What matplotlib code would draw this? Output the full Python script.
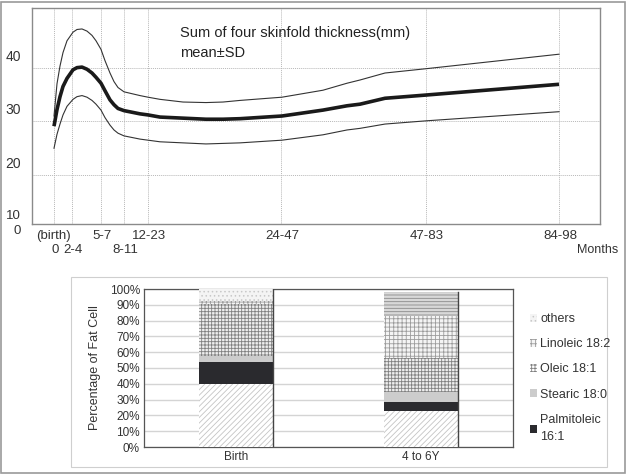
import matplotlib.pyplot as plt
from matplotlib.patches import Rectangle, Patch

plt.rcParams['font.family'] = ['Liberation Sans', 'DejaVu Sans']

# ---- top chart: sum of four skinfold thickness (mm), mean +- SD
age_labels = ['0', '2-4', '5-7', '8-11', '12-23', '24-47', '47-83', '84-98']
age_pos = [54, 72, 101, 124, 148, 281, 426, 559]   # horizontal position of each age group
age_row = [1, 1, 0, 1, 0, 0, 0, 0]                  # 0 = upper label row, 1 = lower row

# curve read-off points (x on the same axis as age_pos)
curve_x = [54, 57, 60, 63, 67, 73, 77, 82, 87, 92, 96, 101, 105, 110, 114, 118, 124,
           140, 148, 160, 183, 206, 223, 240, 282, 323, 347, 360, 385, 426, 559]
mean_mm = [29.1, 32.2, 34.6, 36.5, 38.0, 39.6, 40.0, 40.1, 39.7, 39.0, 38.2, 37.1, 35.7,
           34.0, 33.1, 32.4, 32.0, 31.4, 31.2, 30.8, 30.6, 30.4, 30.4, 30.5, 31.0, 32.1,
           32.9, 33.2, 34.3, 34.9, 36.9]
upper_mm = [31.0, 37.0, 40.3, 42.8, 45.0, 46.6, 47.1, 47.2, 46.8, 46.0, 45.0, 43.4, 41.3,
            39.0, 37.4, 36.3, 35.5, 34.8, 34.5, 34.1, 33.6, 33.5, 33.6, 33.9, 34.5, 35.8,
            37.1, 37.7, 39.0, 39.8, 42.5]
lower_mm = [25.0, 27.6, 29.5, 31.2, 32.8, 34.1, 34.6, 34.8, 34.5, 33.9, 33.2, 32.1, 30.7,
            29.3, 28.4, 27.8, 27.3, 26.7, 26.5, 26.2, 26.0, 25.8, 25.9, 26.0, 26.5, 27.5,
            28.4, 28.7, 29.5, 30.1, 31.8]
y_grid = [20, 30, 40]

# ---- bottom chart: fatty acid composition of fat cells (%)
groups = ['Birth', '4 to 6Y']
acids = ['Palmitic 16:0', 'Palmitoleic\n16:1', 'Stearic 18:0', 'Oleic 18:1',
         'Linoleic 18:2', 'others']
shares = {
    'Palmitic 16:0':    [39.7, 22.8],
    'Palmitoleic\n16:1': [14.0, 5.5],
    'Stearic 18:0':     [4.0, 6.7],
    'Oleic 18:1':       [32.8, 21.1],
    'Linoleic 18:2':    [2.1, 26.8],
    'others':           [7.4, 15.4],
}

W, H = 628, 476
fig = plt.figure(figsize=(W / 100, H / 100), dpi=100)


def box(l, t, r, b):
    return [l / W, 1 - b / H, (r - l) / W, (b - t) / H]


# outer frame and bottom panel frame
fig.patches.append(Rectangle((1 / W, 1 - 473 / H), 624 / W, 471 / H, transform=fig.transFigure,
                             fill=False, edgecolor='#9a9a9a', linewidth=1.2))
fig.patches.append(Rectangle((71 / W, 1 - 467 / H), 536 / W, 190 / H, transform=fig.transFigure,
                             fill=False, edgecolor='#cfcfcf', linewidth=0.8))

# ---------------- top chart
ax = fig.add_axes(box(32, 8, 600, 224))
ax.plot(curve_x, upper_mm, color='#333333', lw=0.8)
ax.plot(curve_x, lower_mm, color='#333333', lw=0.8)
ax.plot(curve_x, mean_mm, color='#1a1a1a', lw=2.6, solid_capstyle='butt',
        solid_joinstyle='round')
ax.set_xlim(32, 600)
ax.set_ylim(10.9, 51.1)
ax.set_xticks(age_pos)
ax.set_yticks(y_grid)
ax.set_xticklabels([])
ax.set_yticklabels([])
ax.tick_params(length=0)
ax.grid(True, color='#b8b8b8', linestyle=(0, (1, 1)), linewidth=0.7)
for s in ax.spines.values():
    s.set_color('#8a8a8a')
    s.set_linewidth(1.0)

lab_kw = dict(fontsize=9.5, color='#333333', ha='center', va='center')
for lab, xp, row in zip(age_labels, age_pos, age_row):
    ax.text(xp + 1, -0.055 - 0.065 * row, lab, transform=ax.get_xaxis_transform(), **lab_kw)
ax.text(53, -0.055, '(birth)', transform=ax.get_xaxis_transform(), **lab_kw)
ax.text(618, -0.12, 'Months', transform=ax.get_xaxis_transform(), fontsize=9, color='#333333',
        ha='right', va='center')
for v in y_grid:
    fig.text(13 / W, 1 - (67.7 + (40 - v) * 5.37 - 11) / H, str(v), ha='center', va='center',
             fontsize=10, color='#333333')
fig.text(13 / W, 1 - 216 / H, '10', ha='center', va='center', fontsize=9.5, color='#333333')
fig.text(17 / W, 1 - 231 / H, '0', ha='center', va='center', fontsize=9.5, color='#333333')

ax.text(180, 46.5, 'Sum of four skinfold thickness(mm)', fontsize=10.5, color='#222222',
        ha='left', va='center')
ax.text(180, 42.8, 'mean\u00b1SD', fontsize=10.5, color='#222222', ha='left', va='center')

# ---------------- bottom chart
bx = fig.add_axes(box(144, 289, 513, 447))
styles = {
    'Palmitic 16:0':    dict(color='white', edgecolor='#c4c4c4', hatch='//////'),
    'Palmitoleic\n16:1': dict(color='#2a2a2e', edgecolor='#2a2a2e', hatch=None),
    'Stearic 18:0':     dict(color='#cccccc', edgecolor='#cccccc', hatch=None),
    'Oleic 18:1':       dict(color='#eeeeee', edgecolor='#808080', hatch='+++++'),
    'Linoleic 18:2':    dict(color='#f4f4f4', edgecolor='#9c9c9c', hatch='++++'),
    'others':           dict(color='#f4f4f4', edgecolor='#c8c8c8', hatch='....'),
}
plt.rcParams['hatch.linewidth'] = 0.6
xs = list(range(len(groups)))
bottom = [0.0] * len(groups)
handles = {}
for acid in acids:
    vals = shares[acid]
    st = styles[acid]
    bars = bx.bar(xs, vals, 0.4, bottom=bottom, color=st['color'], edgecolor=st['edgecolor'],
                  hatch=st['hatch'], linewidth=0, zorder=3)
    handles[acid] = bars
    bottom = [b + v for b, v in zip(bottom, vals)]
# the later group uses horizontal stripes for "others"
handles['others'][1].set_hatch('-----')
handles['others'][1].set_edgecolor('#8a8a8a')
handles['others'][1].set_facecolor('#d8d8d8')
for xi, top in zip(xs, bottom):
    bx.plot([xi + 0.2, xi + 0.2], [0, top], color='#444444', lw=1.0, zorder=4)

bx.set_xlim(-0.5, 1.5)
bx.set_ylim(0, 100)
bx.set_yticks(range(0, 101, 10))
bx.set_yticklabels([f'{v}%' for v in range(0, 101, 10)], fontsize=8.5, color='#333333')
bx.set_xticks(xs)
bx.set_xticklabels(groups, fontsize=8.5, color='#333333')
bx.tick_params(length=0, pad=3)
bx.yaxis.grid(True, color='#d4d4d4', linewidth=1.0, zorder=0)
bx.set_axisbelow(True)
for s in bx.spines.values():
    s.set_color('#555555')
    s.set_linewidth(0.9)
bx.set_ylabel('Percentage of Fat Cell', fontsize=9, color='#333333', labelpad=6)

leg_order = ['others', 'Linoleic 18:2', 'Oleic 18:1', 'Stearic 18:0', 'Palmitoleic\n16:1']
leg_handles = [Patch(facecolor=styles[a]['color'] if a != 'Oleic 18:1' else 'white',
                     edgecolor=styles[a]['edgecolor'], hatch=styles[a]['hatch'], linewidth=0)
               for a in leg_order]
leg = fig.legend(leg_handles, leg_order, loc='upper left',
                 bbox_to_anchor=(519 / W, 1 - 302 / H), frameon=False, fontsize=9,
                 handlelength=0.5, handleheight=0.6, handletextpad=0.3,
                 labelspacing=1.05, labelcolor='#333333')
leg.get_texts()[-1].set_linespacing(1.6)

fig.savefig('out.png', dpi=100)
